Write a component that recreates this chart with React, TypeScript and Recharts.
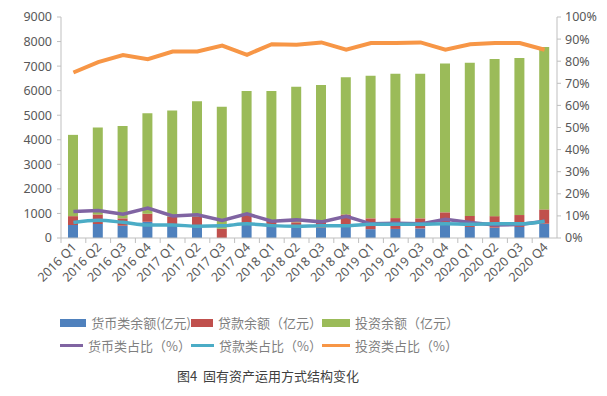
import React from "react";
import { ComposedChart, Bar, Line, XAxis, YAxis } from "recharts";

const quarters = [
  "2016 Q1", "2016 Q2", "2016 Q3", "2016 Q4",
  "2017 Q1", "2017 Q2", "2017 Q3", "2017 Q4",
  "2018 Q1", "2018 Q2", "2018 Q3", "2018 Q4",
  "2019 Q1", "2019 Q2", "2019 Q3", "2019 Q4",
  "2020 Q1", "2020 Q2", "2020 Q3", "2020 Q4",
];

// 余额（亿元）
const cashBalance = [530, 570, 500, 660, 570, 500, 0, 560, 460, 460, 420, 500, 360, 370, 390, 530, 450, 420, 450, 580];
const loanBalance = [360, 390, 300, 330, 300, 370, 380, 380, 270, 180, 300, 460, 440, 440, 410, 515, 450, 470, 485, 585];
const investBalance = [3310, 3540, 3760, 4090, 4320, 4700, 4960, 5050, 5260, 5520, 5510, 5590, 5810, 5880, 5890, 6065, 6240, 6400, 6395, 6615];

// 占比（%）
const cashShare = [12.0, 12.4, 10.8, 13.5, 10.0, 10.5, 7.9, 10.9, 7.6, 8.2, 7.3, 9.8, 6.4, 6.7, 6.4, 8.5, 7.0, 5.9, 6.1, 7.6];
const loanShare = [7.0, 8.0, 7.1, 5.9, 5.9, 5.3, 5.5, 6.4, 5.6, 5.3, 5.5, 5.5, 6.2, 6.2, 6.2, 6.4, 6.2, 6.4, 6.4, 7.6];
const investShare = [74.9, 79.6, 82.8, 80.9, 84.4, 84.4, 87.1, 82.9, 87.7, 87.4, 88.5, 85.2, 88.2, 88.2, 88.5, 85.2, 87.7, 88.2, 88.2, 85.2];

const leftTicks = [0, 1000, 2000, 3000, 4000, 5000, 6000, 7000, 8000, 9000];
const rightTicks = [0, 10, 20, 30, 40, 50, 60, 70, 80, 90, 100];

const barSeries = [
  { key: "cash", name: "货币类余额(亿元)", color: "#4f81bd" },
  { key: "loan", name: "贷款余额（亿元）", color: "#c0504d" },
  { key: "invest", name: "投资余额（亿元）", color: "#9bbb59" },
];
const lineSeries = [
  { key: "cashPct", name: "货币类占比（%）", color: "#8064a2", width: 3.5, type: "linear" },
  { key: "loanPct", name: "贷款类占比（%）", color: "#4bacc6", width: 3.5, type: "monotone" },
  { key: "investPct", name: "投资类占比（%）", color: "#f79646", width: 4, type: "linear" },
];

const data = quarters.map((q, i) => ({
  q,
  cash: cashBalance[i],
  loan: loanBalance[i],
  invest: investBalance[i],
  cashPct: cashShare[i],
  loanPct: loanShare[i],
  investPct: investShare[i],
}));

const W = 607;
const H = 300;
const M = { top: 17, right: 0, left: 11, bottom: 0 };
const AXIS_W = 50;
const PLOT_W = W - M.left - M.right - AXIS_W * 2;
const BAND = PLOT_W / quarters.length;
const AXIS_GREY = "#bfbfbf";
const TEXT_GREY = "#595959";
const FONT = "'Noto Sans', 'Noto Sans CJK SC', sans-serif";

const XTick = (props: any) => {
  const { x, y, payload } = props;
  return (
    <g>
      <line x1={x - BAND / 2} x2={x - BAND / 2} y1={y} y2={y + 5} stroke={AXIS_GREY} />
      <text
        x={x + 4}
        y={y + 10}
        textAnchor="end"
        fontSize={12.5}
        fill={TEXT_GREY}
        fontFamily={FONT}
        transform={`rotate(-45, ${x + 4}, ${y + 10})`}
      >
        {payload.value}
      </text>
    </g>
  );
};

const LegendBlock = () => (
  <div
    style={{
      position: "absolute",
      left: 60,
      top: 314,
      display: "grid",
      gridTemplateColumns: "131px 131px 140px",
      rowGap: 6,
      fontFamily: "'Noto Sans CJK SC', sans-serif",
      fontSize: 13,
      color: "#7f7f7f",
      lineHeight: "17px",
    }}
  >
    {barSeries.map((s) => (
      <div key={s.key} style={{ display: "flex", alignItems: "center", whiteSpace: "nowrap" }}>
        <span style={{ display: "inline-block", width: 28, height: 8, background: s.color, marginRight: 5 }} />
        {s.name}
      </div>
    ))}
    {lineSeries.map((s) => (
      <div key={s.key} style={{ display: "flex", alignItems: "center", whiteSpace: "nowrap" }}>
        <span style={{ display: "inline-block", width: 28, height: 3, background: s.color, marginRight: 5 }} />
        {s.name}
      </div>
    ))}
  </div>
);

export default function App() {
  return (
    <div style={{ position: "absolute", left: 0, top: 0, width: W, height: 396, background: "#fff" }}>
      <ComposedChart width={W} height={H} data={data} margin={M}>
        <XAxis
          dataKey="q"
          interval={0}
          height={62}
          tickSize={0}
          tickMargin={0}
          tickLine={false}
          axisLine={{ stroke: AXIS_GREY }}
          tick={<XTick />}
        />
        <YAxis
          yAxisId="left"
          width={AXIS_W}
          domain={[0, 9000]}
          ticks={leftTicks}
          tickSize={4}
          tickMargin={5}
          axisLine={{ stroke: AXIS_GREY }}
          tickLine={{ stroke: AXIS_GREY }}
          tick={{ fill: TEXT_GREY, fontSize: 12.5, fontFamily: FONT }}
        />
        <YAxis
          yAxisId="right"
          orientation="right"
          width={AXIS_W}
          domain={[0, 100]}
          ticks={rightTicks}
          tickSize={4}
          tickMargin={4}
          tickFormatter={(v) => `${v}%`}
          axisLine={{ stroke: AXIS_GREY }}
          tickLine={{ stroke: AXIS_GREY }}
          tick={{ fill: TEXT_GREY, fontSize: 12.5, fontFamily: FONT, textAnchor: "start" }}
        />
        {barSeries.map((s) => (
          <Bar
            key={s.key}
            yAxisId="left"
            dataKey={s.key}
            name={s.name}
            stackId="a"
            fill={s.color}
            barSize={10}
            isAnimationActive={false}
          />
        ))}
        {lineSeries.map((s) => (
          <Line
            key={s.key}
            yAxisId="right"
            dataKey={s.key}
            name={s.name}
            type={s.type as any}
            stroke={s.color}
            strokeWidth={s.width}
            dot={false}
            activeDot={false}
            isAnimationActive={false}
          />
        ))}
      </ComposedChart>
      <LegendBlock />
      <div
        style={{
          position: "absolute",
          left: 177,
          top: 366,
          fontFamily: "'Noto Sans CJK SC', sans-serif",
          fontSize: 13,
          color: "#404040",
          whiteSpace: "nowrap",
        }}
      >
        图4&nbsp;&nbsp;固有资产运用方式结构变化
      </div>
    </div>
  );
}
